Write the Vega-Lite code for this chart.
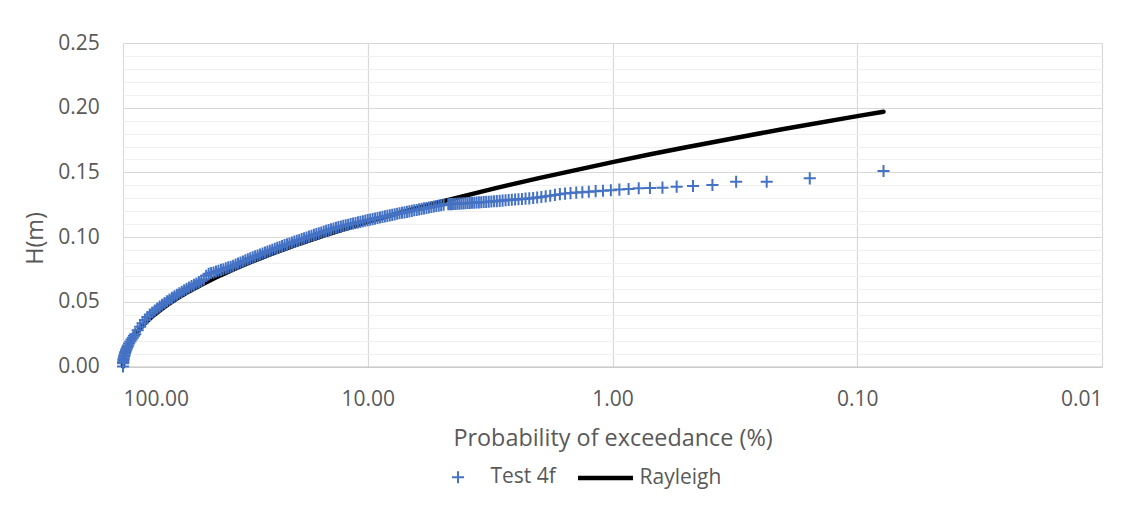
{
  "$schema": "https://vega.github.io/schema/vega-lite/v6.json",
  "width": 979,
  "height": 323.5,
  "autosize": "none",
  "padding": {"left": 123, "top": 43, "right": 30, "bottom": 146.5},
  "background": "white",
  "config": {
    "font": "Open Sans",
    "view": {"stroke": null},
    "axis": {"labelColor": "#595959", "titleColor": "#595959", "labelFont": "Open Sans", "titleFont": "Open Sans", "labelFontSize": 21, "titleFontSize": 23.4, "titleFontWeight": "normal", "ticks": false, "tickSize": 0, "gridWidth": 1.2, "labelOverlap": false},
    "legend": {"orient": "none", "legendX": 306.5, "legendY": 405, "direction": "horizontal", "labelFont": "Open Sans", "labelFontSize": 21, "labelColor": "#595959", "labelOffset": 4, "columnPadding": 12, "padding": 0, "symbolSize": 3025}
  },
  "datasets": {
    "ray": [
      {"p": 100, "h": 0, "s": "Rayleigh"},
      {"p": 99.9, "h": 0.00233, "s": "Rayleigh"},
      {"p": 99.5, "h": 0.00521, "s": "Rayleigh"},
      {"p": 99, "h": 0.00738, "s": "Rayleigh"},
      {"p": 98, "h": 0.01046, "s": "Rayleigh"},
      {"p": 96, "h": 0.01487, "s": "Rayleigh"},
      {"p": 95, "h": 0.01667, "s": "Rayleigh"},
      {"p": 94, "h": 0.01831, "s": "Rayleigh"},
      {"p": 90, "h": 0.02389, "s": "Rayleigh"},
      {"p": 85, "h": 0.02967, "s": "Rayleigh"},
      {"p": 80, "h": 0.03477, "s": "Rayleigh"},
      {"p": 75, "h": 0.03948, "s": "Rayleigh"},
      {"p": 70, "h": 0.04396, "s": "Rayleigh"},
      {"p": 65, "h": 0.04831, "s": "Rayleigh"},
      {"p": 60, "h": 0.05261, "s": "Rayleigh"},
      {"p": 55, "h": 0.05692, "s": "Rayleigh"},
      {"p": 50, "h": 0.06128, "s": "Rayleigh"},
      {"p": 45, "h": 0.06578, "s": "Rayleigh"},
      {"p": 40, "h": 0.07046, "s": "Rayleigh"},
      {"p": 35, "h": 0.07542, "s": "Rayleigh"},
      {"p": 30, "h": 0.08077, "s": "Rayleigh"},
      {"p": 25, "h": 0.08667, "s": "Rayleigh"},
      {"p": 20, "h": 0.09338, "s": "Rayleigh"},
      {"p": 15, "h": 0.10139, "s": "Rayleigh"},
      {"p": 10, "h": 0.1117, "s": "Rayleigh"},
      {"p": 7, "h": 0.12004, "s": "Rayleigh"},
      {"p": 5, "h": 0.1274, "s": "Rayleigh"},
      {"p": 3, "h": 0.13784, "s": "Rayleigh"},
      {"p": 2, "h": 0.14559, "s": "Rayleigh"},
      {"p": 1, "h": 0.15796, "s": "Rayleigh"},
      {"p": 0.7, "h": 0.16397, "s": "Rayleigh"},
      {"p": 0.5, "h": 0.16944, "s": "Rayleigh"},
      {"p": 0.3, "h": 0.17742, "s": "Rayleigh"},
      {"p": 0.2, "h": 0.1835, "s": "Rayleigh"},
      {"p": 0.1, "h": 0.19347, "s": "Rayleigh"},
      {"p": 0.078125, "h": 0.19689, "s": "Rayleigh"}
    ],
    "test": [
      {"p": 100, "h": 0, "s": "Test 4f"},
      {"p": 99.885, "h": 0.0025, "s": "Test 4f"},
      {"p": 99.77, "h": 0.0035, "s": "Test 4f"},
      {"p": 99.541, "h": 0.005, "s": "Test 4f"},
      {"p": 99.312, "h": 0.0061, "s": "Test 4f"},
      {"p": 98.969, "h": 0.0075, "s": "Test 4f"},
      {"p": 98.628, "h": 0.0087, "s": "Test 4f"},
      {"p": 98.175, "h": 0.01, "s": "Test 4f"},
      {"p": 97.724, "h": 0.0112, "s": "Test 4f"},
      {"p": 97.163, "h": 0.0125, "s": "Test 4f"},
      {"p": 96.605, "h": 0.0137, "s": "Test 4f"},
      {"p": 95.941, "h": 0.015, "s": "Test 4f"},
      {"p": 95.284, "h": 0.0162, "s": "Test 4f"},
      {"p": 94.406, "h": 0.0177, "s": "Test 4f"},
      {"p": 93.325, "h": 0.0194, "s": "Test 4f"},
      {"p": 92.257, "h": 0.0209, "s": "Test 4f"},
      {"p": 91.201, "h": 0.0223, "s": "Test 4f"},
      {"p": 90.157, "h": 0.0237, "s": "Test 4f"},
      {"p": 89.125, "h": 0.025, "s": "Test 4f"},
      {"p": 87.096, "h": 0.028, "s": "Test 4f"},
      {"p": 85.114, "h": 0.0308, "s": "Test 4f"},
      {"p": 83.176, "h": 0.0334, "s": "Test 4f"},
      {"p": 81.283, "h": 0.0359, "s": "Test 4f"},
      {"p": 79.433, "h": 0.0383, "s": "Test 4f"},
      {"p": 77.625, "h": 0.0401, "s": "Test 4f"},
      {"p": 75.858, "h": 0.0417, "s": "Test 4f"},
      {"p": 74.131, "h": 0.0433, "s": "Test 4f"},
      {"p": 72.444, "h": 0.0448, "s": "Test 4f"},
      {"p": 70.795, "h": 0.0463, "s": "Test 4f"},
      {"p": 69.183, "h": 0.0477, "s": "Test 4f"},
      {"p": 67.608, "h": 0.0491, "s": "Test 4f"},
      {"p": 66.069, "h": 0.0504, "s": "Test 4f"},
      {"p": 64.565, "h": 0.0517, "s": "Test 4f"},
      {"p": 63.096, "h": 0.053, "s": "Test 4f"},
      {"p": 61.66, "h": 0.0542, "s": "Test 4f"},
      {"p": 60.256, "h": 0.0554, "s": "Test 4f"},
      {"p": 58.884, "h": 0.0566, "s": "Test 4f"},
      {"p": 57.544, "h": 0.0577, "s": "Test 4f"},
      {"p": 56.234, "h": 0.0589, "s": "Test 4f"},
      {"p": 54.954, "h": 0.06, "s": "Test 4f"},
      {"p": 53.703, "h": 0.061, "s": "Test 4f"},
      {"p": 52.481, "h": 0.0621, "s": "Test 4f"},
      {"p": 51.286, "h": 0.0632, "s": "Test 4f"},
      {"p": 50.119, "h": 0.0642, "s": "Test 4f"},
      {"p": 48.978, "h": 0.0652, "s": "Test 4f"},
      {"p": 47.863, "h": 0.0662, "s": "Test 4f"},
      {"p": 46.774, "h": 0.0672, "s": "Test 4f"},
      {"p": 45.709, "h": 0.0701, "s": "Test 4f"},
      {"p": 44.668, "h": 0.0716, "s": "Test 4f"},
      {"p": 43.652, "h": 0.0722, "s": "Test 4f"},
      {"p": 42.658, "h": 0.0727, "s": "Test 4f"},
      {"p": 41.687, "h": 0.0734, "s": "Test 4f"},
      {"p": 40.738, "h": 0.074, "s": "Test 4f"},
      {"p": 39.811, "h": 0.0747, "s": "Test 4f"},
      {"p": 38.905, "h": 0.0752, "s": "Test 4f"},
      {"p": 38.019, "h": 0.0759, "s": "Test 4f"},
      {"p": 37.154, "h": 0.0766, "s": "Test 4f"},
      {"p": 36.308, "h": 0.0771, "s": "Test 4f"},
      {"p": 35.481, "h": 0.0779, "s": "Test 4f"},
      {"p": 34.674, "h": 0.0788, "s": "Test 4f"},
      {"p": 33.884, "h": 0.0796, "s": "Test 4f"},
      {"p": 33.113, "h": 0.0804, "s": "Test 4f"},
      {"p": 32.359, "h": 0.0812, "s": "Test 4f"},
      {"p": 31.623, "h": 0.082, "s": "Test 4f"},
      {"p": 30.903, "h": 0.0828, "s": "Test 4f"},
      {"p": 30.2, "h": 0.0836, "s": "Test 4f"},
      {"p": 29.512, "h": 0.0843, "s": "Test 4f"},
      {"p": 28.84, "h": 0.0851, "s": "Test 4f"},
      {"p": 28.184, "h": 0.0858, "s": "Test 4f"},
      {"p": 27.542, "h": 0.0866, "s": "Test 4f"},
      {"p": 26.915, "h": 0.0873, "s": "Test 4f"},
      {"p": 26.303, "h": 0.0881, "s": "Test 4f"},
      {"p": 25.704, "h": 0.0888, "s": "Test 4f"},
      {"p": 25.119, "h": 0.0895, "s": "Test 4f"},
      {"p": 24.547, "h": 0.0902, "s": "Test 4f"},
      {"p": 23.988, "h": 0.091, "s": "Test 4f"},
      {"p": 23.442, "h": 0.0917, "s": "Test 4f"},
      {"p": 22.909, "h": 0.0924, "s": "Test 4f"},
      {"p": 22.387, "h": 0.0931, "s": "Test 4f"},
      {"p": 21.878, "h": 0.0938, "s": "Test 4f"},
      {"p": 21.38, "h": 0.0944, "s": "Test 4f"},
      {"p": 20.893, "h": 0.0951, "s": "Test 4f"},
      {"p": 20.417, "h": 0.0958, "s": "Test 4f"},
      {"p": 19.953, "h": 0.0965, "s": "Test 4f"},
      {"p": 19.498, "h": 0.0971, "s": "Test 4f"},
      {"p": 19.055, "h": 0.0978, "s": "Test 4f"},
      {"p": 18.621, "h": 0.0984, "s": "Test 4f"},
      {"p": 18.197, "h": 0.0991, "s": "Test 4f"},
      {"p": 17.783, "h": 0.0997, "s": "Test 4f"},
      {"p": 17.378, "h": 0.1004, "s": "Test 4f"},
      {"p": 16.982, "h": 0.101, "s": "Test 4f"},
      {"p": 16.596, "h": 0.1017, "s": "Test 4f"},
      {"p": 16.218, "h": 0.1023, "s": "Test 4f"},
      {"p": 15.849, "h": 0.1029, "s": "Test 4f"},
      {"p": 15.488, "h": 0.1035, "s": "Test 4f"},
      {"p": 15.136, "h": 0.1042, "s": "Test 4f"},
      {"p": 14.791, "h": 0.1048, "s": "Test 4f"},
      {"p": 14.454, "h": 0.1054, "s": "Test 4f"},
      {"p": 14.125, "h": 0.106, "s": "Test 4f"},
      {"p": 13.804, "h": 0.1066, "s": "Test 4f"},
      {"p": 13.49, "h": 0.1072, "s": "Test 4f"},
      {"p": 13.183, "h": 0.1078, "s": "Test 4f"},
      {"p": 12.882, "h": 0.1082, "s": "Test 4f"},
      {"p": 12.589, "h": 0.1087, "s": "Test 4f"},
      {"p": 12.303, "h": 0.1092, "s": "Test 4f"},
      {"p": 12.023, "h": 0.1096, "s": "Test 4f"},
      {"p": 11.749, "h": 0.1101, "s": "Test 4f"},
      {"p": 11.482, "h": 0.1105, "s": "Test 4f"},
      {"p": 11.22, "h": 0.1109, "s": "Test 4f"},
      {"p": 10.965, "h": 0.1114, "s": "Test 4f"},
      {"p": 10.715, "h": 0.1118, "s": "Test 4f"},
      {"p": 10.471, "h": 0.1122, "s": "Test 4f"},
      {"p": 10.233, "h": 0.1127, "s": "Test 4f"},
      {"p": 10, "h": 0.1131, "s": "Test 4f"},
      {"p": 9.7724, "h": 0.1135, "s": "Test 4f"},
      {"p": 9.5499, "h": 0.1139, "s": "Test 4f"},
      {"p": 9.3325, "h": 0.1143, "s": "Test 4f"},
      {"p": 9.1201, "h": 0.1148, "s": "Test 4f"},
      {"p": 8.9125, "h": 0.1152, "s": "Test 4f"},
      {"p": 8.7096, "h": 0.1156, "s": "Test 4f"},
      {"p": 8.5114, "h": 0.116, "s": "Test 4f"},
      {"p": 8.3176, "h": 0.1164, "s": "Test 4f"},
      {"p": 8.1283, "h": 0.1168, "s": "Test 4f"},
      {"p": 7.9433, "h": 0.1172, "s": "Test 4f"},
      {"p": 7.7625, "h": 0.1176, "s": "Test 4f"},
      {"p": 7.5858, "h": 0.118, "s": "Test 4f"},
      {"p": 7.4131, "h": 0.1184, "s": "Test 4f"},
      {"p": 7.2444, "h": 0.1188, "s": "Test 4f"},
      {"p": 7.0795, "h": 0.1191, "s": "Test 4f"},
      {"p": 6.9183, "h": 0.1195, "s": "Test 4f"},
      {"p": 6.7608, "h": 0.1199, "s": "Test 4f"},
      {"p": 6.6069, "h": 0.1203, "s": "Test 4f"},
      {"p": 6.4565, "h": 0.1207, "s": "Test 4f"},
      {"p": 6.3096, "h": 0.121, "s": "Test 4f"},
      {"p": 6.166, "h": 0.1214, "s": "Test 4f"},
      {"p": 6.0256, "h": 0.1218, "s": "Test 4f"},
      {"p": 5.8884, "h": 0.1222, "s": "Test 4f"},
      {"p": 5.7544, "h": 0.1225, "s": "Test 4f"},
      {"p": 5.6234, "h": 0.1229, "s": "Test 4f"},
      {"p": 5.4954, "h": 0.1233, "s": "Test 4f"},
      {"p": 5.3703, "h": 0.1236, "s": "Test 4f"},
      {"p": 5.2481, "h": 0.124, "s": "Test 4f"},
      {"p": 5.1286, "h": 0.1243, "s": "Test 4f"},
      {"p": 5.0119, "h": 0.1247, "s": "Test 4f"},
      {"p": 4.8978, "h": 0.125, "s": "Test 4f"},
      {"p": 4.6875, "h": 0.1254, "s": "Test 4f"},
      {"p": 4.6094, "h": 0.1255, "s": "Test 4f"},
      {"p": 4.5313, "h": 0.1255, "s": "Test 4f"},
      {"p": 4.4531, "h": 0.1256, "s": "Test 4f"},
      {"p": 4.375, "h": 0.1257, "s": "Test 4f"},
      {"p": 4.2969, "h": 0.1258, "s": "Test 4f"},
      {"p": 4.2188, "h": 0.1259, "s": "Test 4f"},
      {"p": 4.1406, "h": 0.126, "s": "Test 4f"},
      {"p": 4.0625, "h": 0.1261, "s": "Test 4f"},
      {"p": 3.9844, "h": 0.1262, "s": "Test 4f"},
      {"p": 3.9063, "h": 0.1263, "s": "Test 4f"},
      {"p": 3.8281, "h": 0.1264, "s": "Test 4f"},
      {"p": 3.75, "h": 0.1265, "s": "Test 4f"},
      {"p": 3.6719, "h": 0.1266, "s": "Test 4f"},
      {"p": 3.5938, "h": 0.1267, "s": "Test 4f"},
      {"p": 3.5156, "h": 0.1268, "s": "Test 4f"},
      {"p": 3.4375, "h": 0.1269, "s": "Test 4f"},
      {"p": 3.3594, "h": 0.1271, "s": "Test 4f"},
      {"p": 3.2813, "h": 0.1272, "s": "Test 4f"},
      {"p": 3.2031, "h": 0.1273, "s": "Test 4f"},
      {"p": 3.125, "h": 0.1275, "s": "Test 4f"},
      {"p": 3.0469, "h": 0.1277, "s": "Test 4f"},
      {"p": 2.9688, "h": 0.1278, "s": "Test 4f"},
      {"p": 2.8906, "h": 0.128, "s": "Test 4f"},
      {"p": 2.8125, "h": 0.1282, "s": "Test 4f"},
      {"p": 2.7344, "h": 0.1285, "s": "Test 4f"},
      {"p": 2.6563, "h": 0.1287, "s": "Test 4f"},
      {"p": 2.5781, "h": 0.1289, "s": "Test 4f"},
      {"p": 2.5, "h": 0.1291, "s": "Test 4f"},
      {"p": 2.4219, "h": 0.1293, "s": "Test 4f"},
      {"p": 2.3438, "h": 0.1295, "s": "Test 4f"},
      {"p": 2.2656, "h": 0.1297, "s": "Test 4f"},
      {"p": 2.1875, "h": 0.1299, "s": "Test 4f"},
      {"p": 2.1094, "h": 0.1302, "s": "Test 4f"},
      {"p": 2.0313, "h": 0.1306, "s": "Test 4f"},
      {"p": 1.9531, "h": 0.131, "s": "Test 4f"},
      {"p": 1.875, "h": 0.1315, "s": "Test 4f"},
      {"p": 1.7969, "h": 0.132, "s": "Test 4f"},
      {"p": 1.7188, "h": 0.1326, "s": "Test 4f"},
      {"p": 1.6406, "h": 0.1332, "s": "Test 4f"},
      {"p": 1.5625, "h": 0.1336, "s": "Test 4f"},
      {"p": 1.4844, "h": 0.134, "s": "Test 4f"},
      {"p": 1.4063, "h": 0.1344, "s": "Test 4f"},
      {"p": 1.3281, "h": 0.1347, "s": "Test 4f"},
      {"p": 1.25, "h": 0.135, "s": "Test 4f"},
      {"p": 1.1719, "h": 0.1355, "s": "Test 4f"},
      {"p": 1.0938, "h": 0.1358, "s": "Test 4f"},
      {"p": 1.0156, "h": 0.1362, "s": "Test 4f"},
      {"p": 0.9375, "h": 0.1367, "s": "Test 4f"},
      {"p": 0.8594, "h": 0.1372, "s": "Test 4f"},
      {"p": 0.7813, "h": 0.1377, "s": "Test 4f"},
      {"p": 0.7031, "h": 0.138, "s": "Test 4f"},
      {"p": 0.625, "h": 0.1382, "s": "Test 4f"},
      {"p": 0.5469, "h": 0.139, "s": "Test 4f"},
      {"p": 0.4688, "h": 0.1395, "s": "Test 4f"},
      {"p": 0.3906, "h": 0.1403, "s": "Test 4f"},
      {"p": 0.3125, "h": 0.1428, "s": "Test 4f"},
      {"p": 0.2344, "h": 0.1428, "s": "Test 4f"},
      {"p": 0.1563, "h": 0.1454, "s": "Test 4f"},
      {"p": 0.0781, "h": 0.1511, "s": "Test 4f"}
    ]
  },
  "layer": [
    {
      "data": {"name": "ray"},
      "mark": {"type": "line", "strokeWidth": 4.5, "strokeCap": "round", "strokeJoin": "round"},
      "encoding": {
        "x": {"field": "p", "type": "quantitative", "scale": {"type": "log", "domain": [0.01, 100], "reverse": true, "nice": false},
          "axis": {"values": [100, 10, 1, 0.1, 0.01], "format": ".2f", "title": "Probability of exceedance (%)", "gridColor": "#d9d9d9", "domainColor": "#bfbfbf", "domainWidth": 1.2, "labelPadding": 38.5, "labelBaseline": "alphabetic", "titleY": 78.5, "titleBaseline": "alphabetic", "titleAnchor": "middle", "tickCount": 10}},
        "y": {"field": "h", "type": "quantitative", "scale": {"domain": [0, 0.25], "nice": false, "zero": true},
          "axis": {"values": [0, 0.01, 0.02, 0.03, 0.04, 0.05, 0.06, 0.07, 0.08, 0.09, 0.1, 0.11, 0.12, 0.13, 0.14, 0.15, 0.16, 0.17, 0.18, 0.19, 0.2, 0.21, 0.22, 0.23, 0.24, 0.25],
            "tickCount": 40,
            "labelExpr": "round(datum.value*100) % 5 === 0 ? format(datum.value, '.2f') : ''",
            "gridColor": {"condition": {"test": "round(datum.value*100) % 5 === 0", "value": "#d9d9d9"}, "value": "#f0f0f0"},
            "domain": false, "labelPadding": 23.7, "labelBaseline": "middle", "labelOverlap": false,
            "title": "H(m)", "titleAngle": -90, "titleX": -80.3, "titleY": 195, "titleAlign": "center", "titleBaseline": "alphabetic"}},
        "color": {"field": "s", "type": "nominal", "scale": {"domain": ["Test 4f", "Rayleigh"], "range": ["#4472C4", "#000000"]}, "legend": {"title": null}}
      }
    },
    {
      "data": {"name": "test"},
      "mark": {"type": "point", "filled": false, "opacity": 1, "size": 3025},
      "encoding": {
        "x": {"field": "p", "type": "quantitative"},
        "y": {"field": "h", "type": "quantitative"},
        "color": {"field": "s", "type": "nominal", "scale": {"domain": ["Test 4f", "Rayleigh"], "range": ["#4472C4", "#000000"]}, "legend": {"title": null}},
        "shape": {"field": "s", "type": "nominal", "scale": {"domain": ["Test 4f", "Rayleigh"], "range": ["M-0.22,0H0.22M0,-0.22V0.22", "stroke"]}, "legend": {"title": null}},
        "strokeWidth": {"field": "s", "type": "nominal", "scale": {"type": "ordinal", "domain": ["Test 4f", "Rayleigh"], "range": [2, 4.5]}, "legend": {"title": null}}
      }
    }
  ]
}
